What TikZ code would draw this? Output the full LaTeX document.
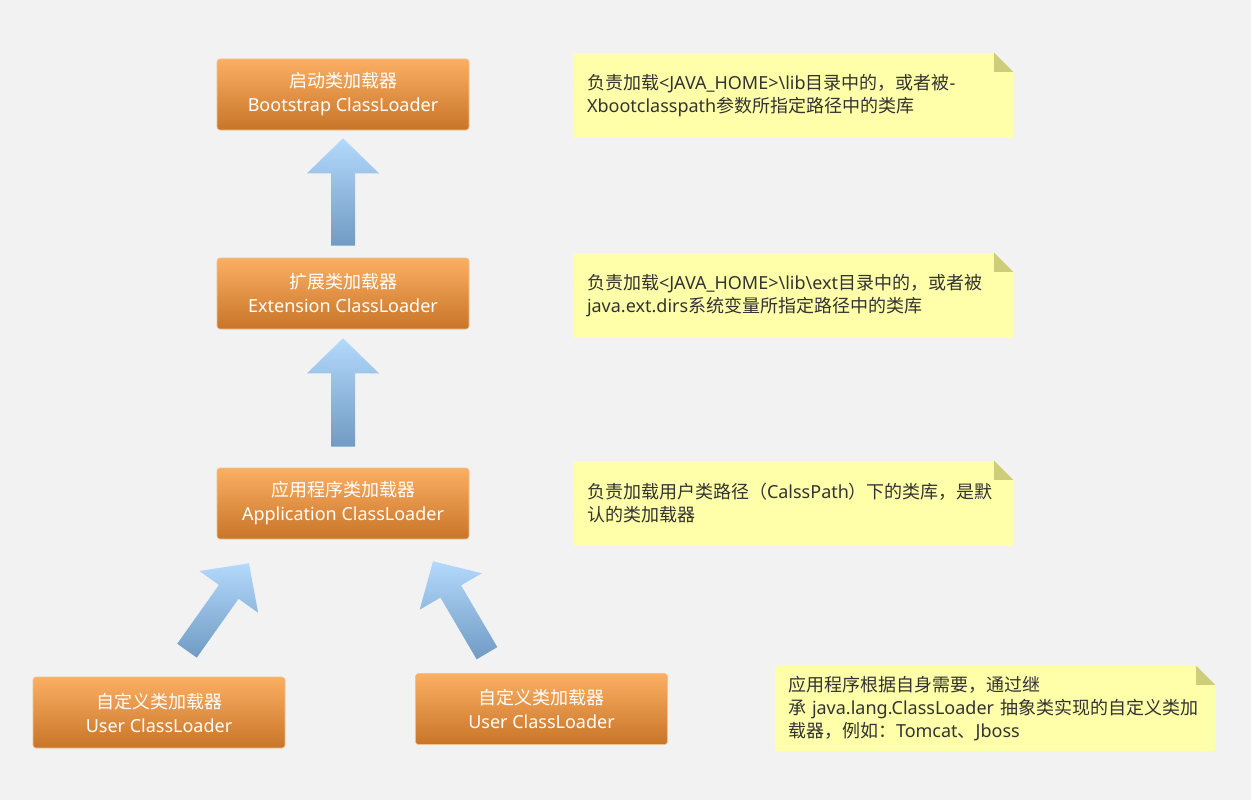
\documentclass[tikz,border=0pt]{standalone}
\usepackage{fontspec}
\setmainfont{Noto Sans CJK SC}
\newfontfamily\lat{Noto Sans}
\usetikzlibrary{calc}
\definecolor{bgcol}{HTML}{F2F2F2}
\definecolor{boxtop}{HTML}{FBAF63}
\definecolor{boxbot}{HTML}{C87528}
\definecolor{boxedge}{HTML}{F2C08E}
\definecolor{arrtop}{HTML}{B3D9FC}
\definecolor{arrbot}{HTML}{719BC4}
\definecolor{notecol}{HTML}{FFFFAA}
\definecolor{foldcol}{HTML}{CDCD7A}
\definecolor{notetext}{HTML}{333333}
\tikzset{
  loader/.style={rounded corners=3pt, top color=boxtop, bottom color=boxbot, draw=boxedge, line width=0.6pt,
    minimum width=252pt, minimum height=71pt, align=center, text=white, font=\fontsize{18}{24}\selectfont},
  note/.style={fill=notecol, minimum width=439pt, minimum height=85pt, text width=413pt, inner xsep=13pt,
    align=left, text=notetext, font=\fontsize{18}{23}\selectfont},
  fatarr/.style={top color=arrtop, bottom color=arrbot, draw=none}
}
\newcommand{\fold}[1]{\fill[bgcol] ([xshift=-19pt]#1.north east) -- (#1.north east) -- ([yshift=-19pt]#1.north east) -- cycle;
  \fill[foldcol] ([xshift=-19pt]#1.north east) -- ([yshift=-19pt]#1.north east) -- ([xshift=-19pt,yshift=-19pt]#1.north east) -- cycle;}
\newcommand{\fatarrow}[2]{\coordinate (fa) at ($(#2)!35pt!(#1)$);
  \shade[fatarr] ($(#1)!12pt!90:(#2)$) -- ($(fa)!12pt!90:(#2)$) -- ($(fa)!36pt!90:(#2)$) -- (#2)
    -- ($(fa)!36pt!-90:(#2)$) -- ($(fa)!12pt!-90:(#2)$) -- ($(#1)!12pt!-90:(#2)$) -- cycle;}

\begin{document}
\begin{tikzpicture}[x=1pt, y=-1pt]
\fill[bgcol] (0,0) rectangle (1251,800);
% class loaders
\node[loader] (boot) at (343,94.5) {启动类加载器\\{\lat Bootstrap ClassLoader}};
\node[loader] (ext) at (343,293.5) {扩展类加载器\\{\lat Extension ClassLoader}};
\node[loader] (app) at (343,503.5) {应用程序类加载器\\{\lat Application ClassLoader}};
\node[loader] (user1) at (159,712.5) {自定义类加载器\\{\lat User ClassLoader}};
\node[loader] (user2) at (541.5,709) {自定义类加载器\\{\lat User ClassLoader}};
% notes
\node[note] (bootnote) at (793.5,95.5) {负责加载{\lat<JAVA\_HOME>\textbackslash lib}目录中的，或者被{\lat -}\\{\lat Xbootclasspath}参数所指定路径中的类库};
\fold{bootnote}
\node[note] (extnote) at (793.5,295.5) {负责加载{\lat<JAVA\_HOME>\textbackslash lib\textbackslash ext}目录中的，或者被\\{\lat java.ext.dirs}系统变量所指定路径中的类库};
\fold{extnote}
\node[note] (appnote) at (793.5,503.5) {负责加载用户类路径（{\lat CalssPath}）下的类库，是默\\认的类加载器};
\fold{appnote}
\node[note, minimum width=440pt, text width=414pt] (usernote) at (995,708.5) {应用程序根据自身需要，通过继\\承{\lat~java.lang.ClassLoader~}抽象类实现的自定义类加\\载器，例如：{\lat Tomcat}、{\lat Jboss}};
\fold{usernote}
% parent arrows
\coordinate (a1s) at ($(ext.north)+(0,-12)$);
\coordinate (a1e) at ($(boot.south)+(0,8)$);
\fatarrow{a1s}{a1e}
\coordinate (a2s) at ($(app.north)+(0,-21)$);
\coordinate (a2e) at ($(ext.south)+(0,9)$);
\fatarrow{a2s}{a2e}
\coordinate (a3s) at ($(user1.north)+(28,-26)$);
\coordinate (a3e) at ($(app.south)+(-94,24)$);
\fatarrow{a3s}{a3e}
\coordinate (a4s) at ($(user2.north)+(-54.5,-20)$);
\coordinate (a4e) at ($(app.south)+(90,22)$);
\fatarrow{a4s}{a4e}
\end{tikzpicture}
\end{document}
